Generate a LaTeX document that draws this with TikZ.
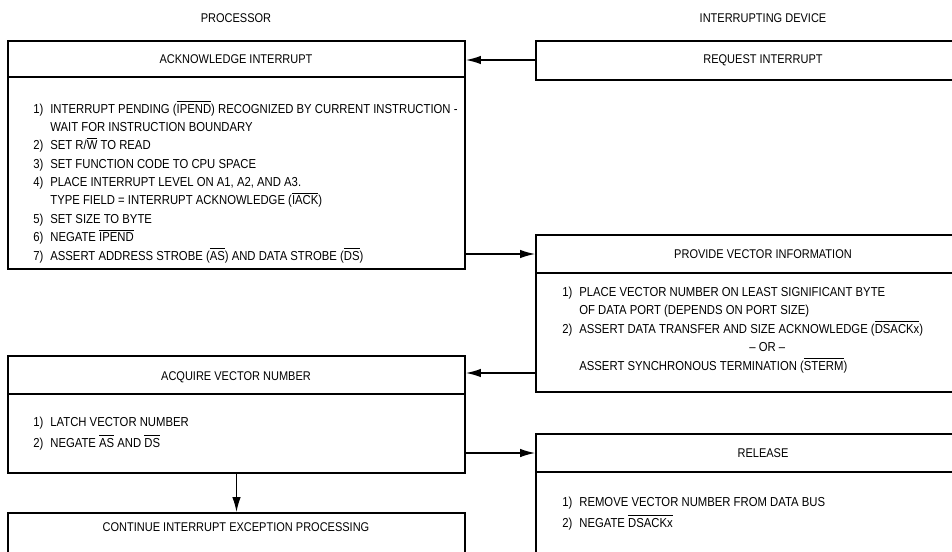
\documentclass[tikz,border=0pt]{standalone}
\usepackage{fontspec}
\setmainfont{Liberation Sans}[FakeStretch=0.87]
\usetikzlibrary{arrows.meta, positioning, fit}
\newcommand{\ovl}[1]{$\overline{\mbox{#1}}$}
\newcommand{\itm}[1]{\makebox[0.34cm][l]{#1)}}
\newcommand{\cont}{\hspace*{0.34cm}}

\begin{document}
\begin{tikzpicture}[
  x=0.02cm, y=-0.02cm,
  font=\fontsize{7.2}{10.4}\selectfont,
  >={Latex[length=3mm, width=1.7mm]},
  box/.style={draw, line width=1.1pt, inner sep=0pt},
  title/.style={inner sep=0pt},
  body/.style={align=left, inner sep=0pt, anchor=base west,
               font=\fontsize{7.4}{10.45}\selectfont},
  sep/.style={line width=0.8pt},
  arr/.style={->, line width=0.7pt},
  ]
\clip (0,0) rectangle (952,551);

\node[title] (proc) at (236,18) {PROCESSOR};
\node[title] (dev) at (763,18) {INTERRUPTING DEVICE};

% processor side
\node[box, fit={(8,41) (465,269)}] (ack) {};
\node[title] (ackt) at (236,59) {ACKNOWLEDGE INTERRUPT};
\draw[sep] (ack.west |- 0,77) -- (ack.east |- 0,77);
\node[body] (ackb) at (33,260) {\itm{1}INTERRUPT PENDING (\ovl{IPEND}) RECOGNIZED BY CURRENT INSTRUCTION -\\
  \cont WAIT FOR INSTRUCTION BOUNDARY\\
  \itm{2}SET R/\ovl{W} TO READ\\
  \itm{3}SET FUNCTION CODE TO CPU SPACE\\
  \itm{4}PLACE INTERRUPT LEVEL ON A1, A2, AND A3.\\
  \cont TYPE FIELD = INTERRUPT ACKNOWLEDGE (\ovl{IACK})\\
  \itm{5}SET SIZE TO BYTE\\
  \itm{6}NEGATE \ovl{IPEND}\\
  \itm{7}ASSERT ADDRESS STROBE (\ovl{AS}) AND DATA STROBE (\ovl{DS})};

\node[box, fit={(8,356) (465,473)}] (acq) {};
\node[title] (acqt) at (236,377) {ACQUIRE VECTOR NUMBER};
\draw[sep] (acq.west |- 0,394) -- (acq.east |- 0,394);
\node[body] (acqb) at (33,447) {\itm{1}LATCH VECTOR NUMBER\\[1pt]
  \itm{2}NEGATE \ovl{AS} AND \ovl{DS}};

\node[box, fit={(8,513) (465,600)}] (cont) {};
\node[title] (contt) at (236,527) {CONTINUE INTERRUPT EXCEPTION PROCESSING};

% interrupting device side
\node[box, fit={(536,41) (990,80)}] (req) {};
\node[title] (reqt) at (763,60) {REQUEST INTERRUPT};

\node[box, fit={(536,235) (990,392)}] (pv) {};
\node[title] (pvt) at (763,254) {PROVIDE VECTOR INFORMATION};
\draw[sep] (pv.west |- 0,273) -- (pv.east |- 0,273);
\node[body] (pvb) at (562,370) {\itm{1}PLACE VECTOR NUMBER ON LEAST SIGNIFICANT BYTE\\
  \cont OF DATA PORT (DEPENDS ON PORT SIZE)\\
  \itm{2}ASSERT DATA TRANSFER AND SIZE ACKNOWLEDGE (\ovl{DSACKx})\\
  \cont\makebox[7.52cm][c]{-- OR --}\\
  \cont ASSERT SYNCHRONOUS TERMINATION (\ovl{STERM})};

\node[box, fit={(536,434) (990,600)}] (rel) {};
\node[title] (relt) at (763,453) {RELEASE};
\draw[sep] (rel.west |- 0,472) -- (rel.east |- 0,472);
\node[body] (relb) at (562,527) {\itm{1}REMOVE VECTOR NUMBER FROM DATA BUS\\[1pt]
  \itm{2}NEGATE \ovl{DSACKx}};

\draw[arr] (req.west |- reqt) -- (ack.east |- reqt);
\draw[arr] (ack.east |- pvt) -- (pv.west |- pvt);
\draw[arr] (pv.west |- 0,373) -- (acq.east |- 0,373);
\draw[arr] (acq.east |- relt) -- (rel.west |- relt);
\draw[arr] (acq.south) -- (cont.north);
\end{tikzpicture}
\end{document}
